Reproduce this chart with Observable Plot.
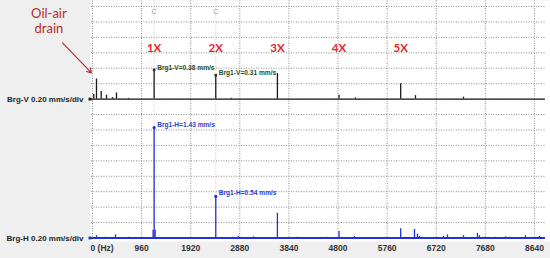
<!DOCTYPE html>
<html>
<head>
<meta charset="utf-8">
<script src="https://cdn.jsdelivr.net/npm/d3@7"></script>
<script src="https://cdn.jsdelivr.net/npm/@observablehq/plot@0.6"></script>
<style>
  html, body { margin: 0; padding: 0; background: #efefef; }
</style>
</head>
<body>
<div id="chart"></div>
<script>
// ---- data ----
// Vertical channel spectrum (Brg-V), Hz and mm/s
const freqV = [25, 78, 170, 274, 391, 469, 704, 1205, 2410, 2711, 3615, 4820, 5141, 6025, 6314, 7253];
const ampV  = [0.06, 0.26, 0.10, 0.05, 0.02, 0.08, 0.01, 0.38, 0.31, 0.01, 0.33, 0.05, 0.015, 0.20, 0.045, 0.025];
// Horizontal channel spectrum (Brg-H)
const freqH = [78, 254, 450, 704, 1185, 1205, 1225, 2410, 2737, 2854, 3147, 3615, 4008, 4574, 4820, 5122, 6025, 6295, 6353, 6392, 6451, 6862, 6940, 7253, 7526, 7565, 7683, 7878, 8074, 8152, 8465, 8738];
const ampH  = [0.03, 0.01, 0.04, 0.01, 0.10, 1.43, 0.10, 0.54, 0.01, 0.02, 0.015, 0.32, 0.01, 0.01, 0.085, 0.02, 0.12, 0.11, 0.05, 0.02, 0.01, 0.02, 0.04, 0.03, 0.06, 0.03, 0.01, 0.01, 0.015, 0.01, 0.03, 0.02];

const channelNames = ["Brg-V", "Brg-H"];
const channelScale = 0.20;          // mm/s per division
const channelOffset = [9, 0];       // baseline in divisions (V stacked above H)
const channelColor = ["#1a1a1a", "#2233d6"];

const runningSpeed = 1205;          // 1X in Hz
const harmonicOrders = [1, 2, 3, 4, 5];
const harmonicLabels = ["1X", "2X", "3X", "4X", "5X"];
const harmonicLabelLevel = 0.66;    // mm/s above V baseline

const cursorFreq = [1205, 2410];
const cursorV = [0.38, 0.31];
const cursorH = [1.43, 0.54];

const xTicks = [0, 960, 1920, 2880, 3840, 4800, 5760, 6720, 7680, 8640];
const xTickLabels = ["0 (Hz)", "960", "1920", "2880", "3840", "4800", "5760", "6720", "7680", "8640"];

const oilAirFreq = 78;
const oilAirLabel = "Oil-air\ndrain";

// ---- derived tables ----
const toDiv = (amp, ch) => channelOffset[ch] + amp / channelScale;
const specV = freqV.map((f, i) => ({f, y1: toDiv(0, 0), y2: toDiv(ampV[i], 0)}));
const specH = freqH.map((f, i) => ({f, y1: toDiv(0, 1), y2: toDiv(ampH[i], 1)}));
const divisions = d3.range(0, 16);
const harmonics = harmonicOrders.map((o, i) => ({f: o * runningSpeed, y: toDiv(harmonicLabelLevel, 0), label: harmonicLabels[i]}));
const cursV = cursorFreq.map((f, i) => ({f, y: toDiv(cursorV[i], 0), label: `Brg1-V=${cursorV[i].toFixed(2)} mm/s`}));
const cursH = cursorFreq.map((f, i) => ({f, y: toDiv(cursorH[i], 1), label: `Brg1-H=${cursorH[i].toFixed(2)} mm/s`}));
const chanLabels = channelNames.map((n, i) => ({y: channelOffset[i], label: `${n} ${channelScale.toFixed(2)} mm/s/div`, color: channelColor[i]}));
const xEnd = 8855;

const grid = {stroke: "#8c8c8c", strokeOpacity: 1, strokeDasharray: "1,1.5", strokeWidth: 1};

const chart = Plot.plot({
  width: 550,
  height: 258,
  marginLeft: 90,
  marginRight: 0,
  marginTop: 0,
  marginBottom: 17,
  style: {background: "#efefef", fontFamily: "Liberation Sans, Arial, sans-serif"},
  x: {domain: [-39, 8954], axis: null},
  y: {domain: [-0.227, 15.39], axis: null},
  marks: [
    Plot.frame({fill: "white", stroke: "none"}),
    // grid
    Plot.ruleY(divisions, {y: d => d, x1: -20, x2: xEnd, ...grid}),
    Plot.ruleX(xTicks, {x: d => d, y1: -0.1, y2: 15.39, ...grid}),
    // cursor lines
    Plot.ruleX(cursorFreq, {x: d => d, y1: 0, y2: 15.39, stroke: "#f0a8bc", strokeDasharray: "1,2", strokeWidth: 1}),
    Plot.text(cursorFreq, {x: d => d, frameAnchor: "top", dy: 9, text: () => "C", fill: "#9a9a9a", fontSize: 7}),
    // baselines
    Plot.ruleY([0], {y: () => channelOffset[0], x1: -60, x2: xEnd, stroke: channelColor[0], strokeWidth: 1.2}),
    Plot.ruleY([0], {y: () => channelOffset[1], x1: -60, x2: xEnd, stroke: channelColor[1], strokeWidth: 1.8}),
    // spectra
    Plot.ruleX(specV, {x: "f", y1: "y1", y2: "y2", stroke: channelColor[0], strokeWidth: 1.3}),
    Plot.ruleX(specH, {x: "f", y1: "y1", y2: "y2", stroke: channelColor[1], strokeWidth: 1.3}),
    // baseline start markers
    Plot.dot(chanLabels, {x: () => 0, y: "y", dx: -2.5, symbol: "square", r: 1.6, fill: "color", stroke: "none"}),
    // channel labels
    Plot.text(chanLabels, {x: () => 0, y: "y", text: "label", dx: -9, textAnchor: "end", fill: "#1e1e1e", fontSize: 8, fontWeight: "bold"}),
    // harmonic labels
    Plot.text(harmonics, {x: "f", y: "y", text: "label", fill: "#e3262b", fontSize: 11.5, fontWeight: "bold", fontFamily: "Lato, sans-serif"}),
    // cursor markers and readouts
    Plot.dot(cursV, {x: "f", y: "y", symbol: "square", r: 1.5, fill: "#333", stroke: "none"}),
    Plot.text(cursV, {x: "f", y: "y", text: "label", textAnchor: "start", dx: 3, dy: -2, fill: "#2b4d2b", fontSize: 6.6, fontWeight: "bold"}),
    Plot.dot(cursH, {x: "f", y: "y", r: 1.6, fill: channelColor[1], stroke: "none"}),
    Plot.text(cursH, {x: "f", y: "y", text: "label", textAnchor: "start", dx: 3, dy: -3, fill: "#2a3fd0", fontSize: 6.6, fontWeight: "bold"}),
    // oil-air drain annotation
    Plot.arrow([oilAirFreq], {x1: d => d - 664, y1: toDiv(0.73, 0), x2: d => d - 98, y2: toDiv(0.34, 0), stroke: "#b8282a", strokeWidth: 1.1, headLength: 7, bend: false}),
    Plot.text([oilAirFreq], {x: d => d - 930, y: toDiv(1.02, 0), text: () => oilAirLabel, fill: "#b8282a", fontSize: 13, lineHeight: 1.15, fontFamily: "Lato, sans-serif"}),
    // x axis labels
    Plot.axisX({ticks: xTicks.slice(1), tickFormat: d => xTickLabels[xTicks.indexOf(d)], tickSize: 0, tickPadding: 3, fontSize: 8.5, fontWeight: "bold", color: "#333", label: null}),
    Plot.axisX({ticks: [0], tickFormat: () => xTickLabels[0], tickSize: 0, tickPadding: 3, textAnchor: "start", dx: -2, fontSize: 8.5, fontWeight: "bold", color: "#333", label: null})
  ]
});
document.getElementById("chart").appendChild(chart);
</script>
</body>
</html>
